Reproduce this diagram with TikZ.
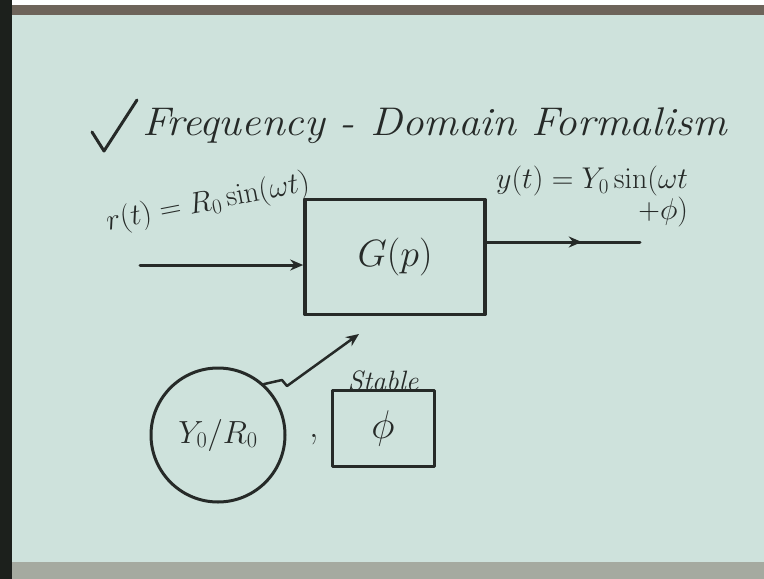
\RequirePackage{fix-cm}
\documentclass[tikz,border=0pt]{standalone}
\usetikzlibrary{arrows.meta,decorations.markings}
\definecolor{board}{RGB}{206,226,220}
\definecolor{ink}{RGB}{38,42,40}
\definecolor{framedark}{RGB}{28,32,28}
\definecolor{topband}{RGB}{110,100,90}
\definecolor{ledge}{RGB}{165,170,160}
\begin{document}
\begin{tikzpicture}[x=1pt,y=-1pt,
  inkline/.style={draw=ink,line width=3pt,line cap=round,line join=round},
  hand/.style={text=ink,inner sep=0pt},
  blockbox/.style={inkline,line width=3.6pt,minimum width=180pt,minimum height=115pt,inner sep=0pt},
  arrowtip/.style={-{Stealth[length=13pt,width=11pt]}},
  midtip/.style={postaction={decorate},decoration={markings,mark=at position 0.62 with {\arrow{Stealth[length=13pt,width=11pt]}}}}
]
\useasboundingbox (0,0) rectangle (764,579);
\fill[white] (0,0) rectangle (764,579);
\fill[board] (12,15) rectangle (764,562);
\fill[topband] (12,5) rectangle (764,15);
\fill[framedark] (0,0) rectangle (12,579);
\fill[ledge] (12,562) rectangle (764,579);

% title
\draw[inkline] (92,132) -- (104,151) -- (137,100);
\node[hand,font=\fontsize{40}{46}\selectfont\itshape,anchor=west,xscale=1.08] (title) at (142,126) {Frequency - Domain Formalism};

% block
\node[blockbox] (G) at (395,257) {};
\node[hand,font=\fontsize{38}{42}\selectfont] (Gtxt) at (G.center) {$G(p)$};

% input
\coordinate (in) at (140,265);
\draw[inkline,arrowtip] (in) -- (G.west |- in);
\node[hand,font=\fontsize{30}{34}\selectfont,rotate=11] (rlab) at (208,203) {$r(t)=R_0\sin(\omega t)$};

% output
\coordinate (out) at (640,242);
\draw[inkline,midtip] (G.east |- out) -- (out);
\node[hand,font=\fontsize{30}{32}\selectfont,align=right,anchor=north west] (ylab) at (496,166) {$y(t)=Y_0\sin(\omega t$\\[-1pt]$+\phi)$};

% ratio circle
\node[inkline,circle,minimum size=134pt,inner sep=0pt] (ratio) at (218,435) {};
\node[hand,font=\fontsize{32}{36}\selectfont] (rtxt) at (ratio.center) {$Y_0/R_0$};

% zigzag arrow
\coordinate (gp) at (359,334);
\draw[inkline,line width=2.5pt,arrowtip] (ratio.48) -- (282,380) -- (287,386) -- (gp);

% comma
\node[hand,font=\fontsize{38}{40}\selectfont] (comma) at (314,440) {,};

% phi box
\node[inkline,minimum width=102pt,minimum height=76pt,inner sep=0pt] (phi) at (383,428) {};
\node[hand,font=\fontsize{40}{44}\selectfont] (phitxt) at (phi.center) {$\phi$};
\node[hand,font=\fontsize{28}{30}\selectfont\itshape,anchor=south] (stab) at ([yshift=-3pt]phi.north) {Stable};
\end{tikzpicture}
\end{document}
